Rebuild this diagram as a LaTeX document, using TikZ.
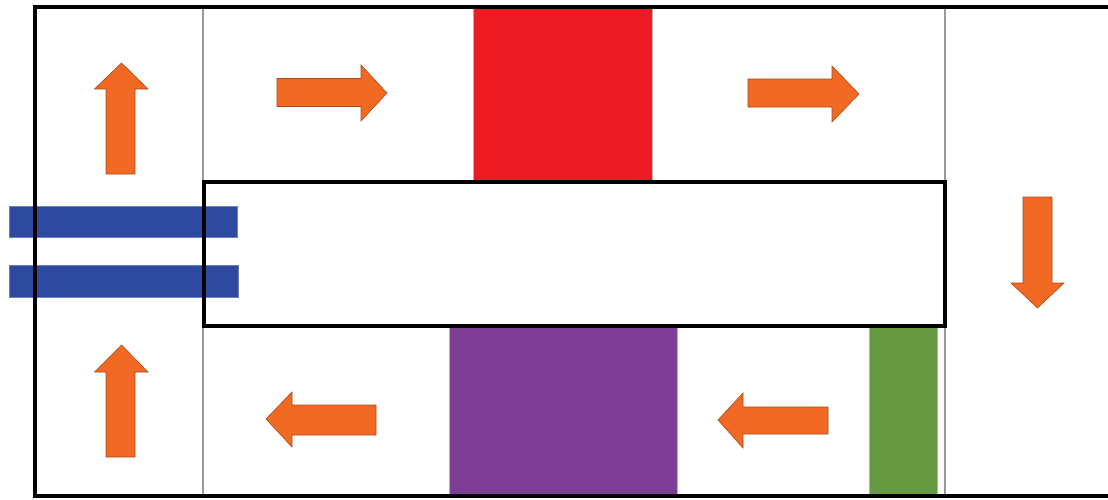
\documentclass[tikz,border=0pt]{standalone}
\definecolor{flowfill}{RGB}{242,105,36}
\definecolor{flowline}{RGB}{170,75,25}
\definecolor{redblk}{RGB}{237,28,36}
\definecolor{purpleblk}{RGB}{126,62,150}
\definecolor{greenblk}{RGB}{102,153,64}
\definecolor{bluebar}{RGB}{46,74,160}
\begin{document}
\begin{tikzpicture}[x=1pt,y=-1pt,
  frame/.style={line width=4pt,black},
  divider/.style={line width=1.4pt,gray!80},
  flow/.style={fill=flowfill,draw=flowline,line width=0.6pt,line join=miter},
  block/.style={draw=gray!60,line width=0.6pt},
  bar/.style={fill=bluebar,draw=bluebar!70,line width=0.6pt}]
\useasboundingbox (0,0) rectangle (1108,499);
\fill[white] (0,0) rectangle (1108,499);
% coloured blocks
\filldraw[block,fill=redblk] (473,8) rectangle (652,181);
\filldraw[block,fill=purpleblk] (449,327) rectangle (677,495);
\filldraw[block,fill=greenblk] (869,327) rectangle (937,495);
\filldraw[bar] (9,206) rectangle (237,237);
\filldraw[bar] (9,265) rectangle (238,297);
% thin dividers
\draw[divider] (203,8) -- (203,495);
\draw[divider] (945,8) -- (945,495);
% frames
\draw[frame] (1108,6.5) -- (35,6.5) -- (35,496) -- (1108,496);
\draw[frame] (203.5,182) rectangle (945,326);
% arrows
\path[flow] (121.5,63) -- (148,89) -- (135,89) -- (135,174) -- (106,174) -- (106,89) -- (94.5,89) -- cycle;
\path[flow] (121.5,345) -- (148,372) -- (135,372) -- (135,457) -- (106,457) -- (106,372) -- (94.5,372) -- cycle;
\path[flow] (387,93) -- (361,121) -- (361,106.5) -- (277,106.5) -- (277,78.5) -- (361,78.5) -- (361,65) -- cycle;
\path[flow] (859,94) -- (832,122) -- (832,107) -- (748,107) -- (748,79) -- (832,79) -- (832,66) -- cycle;
\path[flow] (1037.5,308) -- (1011,283) -- (1023,283) -- (1023,197) -- (1052,197) -- (1052,283) -- (1064,283) -- cycle;
\path[flow] (266,419) -- (292,392) -- (292,405) -- (376,405) -- (376,435) -- (292,435) -- (292,447) -- cycle;
\path[flow] (718,420) -- (743,393) -- (743,407) -- (828,407) -- (828,434) -- (743,434) -- (743,448) -- cycle;
\end{tikzpicture}
\end{document}
